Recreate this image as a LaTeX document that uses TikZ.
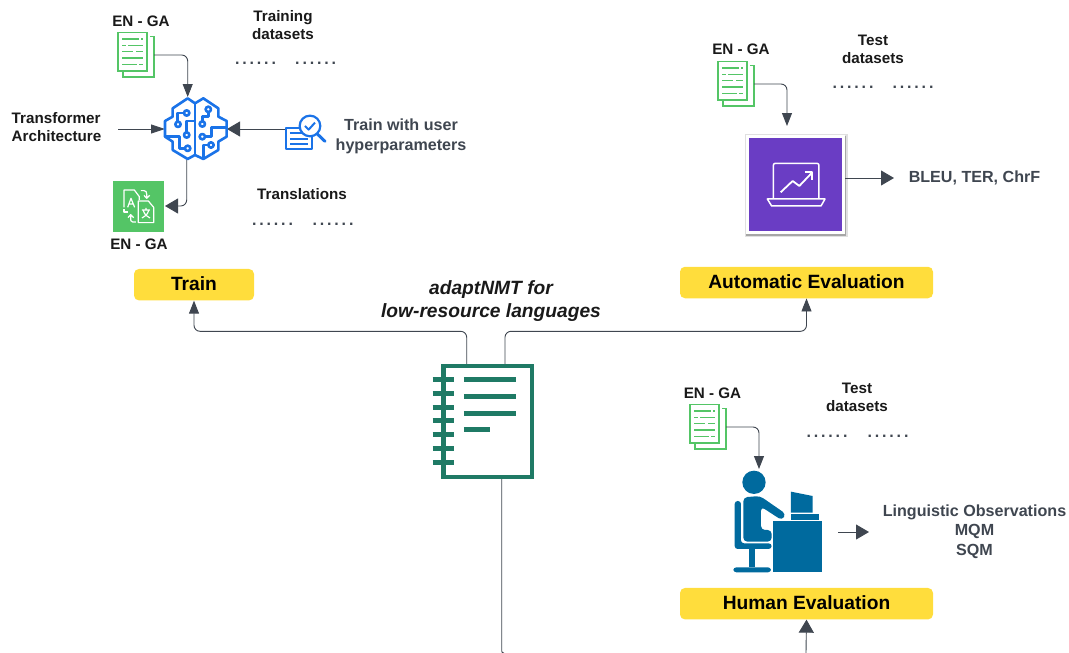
\documentclass[tikz,border=0pt]{standalone}
\usepackage{fontspec}
\setmainfont{Liberation Sans}
\usetikzlibrary{arrows.meta}
\definecolor{linkgrey}{HTML}{3F4650}
\definecolor{docgreen}{HTML}{54C566}
\definecolor{brainblue}{HTML}{1A73E8}
\definecolor{padyellow}{HTML}{FFDD3C}
\definecolor{evalpurple}{HTML}{6A3DC4}
\definecolor{noteteal}{HTML}{1F7A65}
\definecolor{humanblue}{HTML}{006A9E}
\tikzstyle{phantom icon}=[inner sep=0, outer sep=0]
\tikzstyle{stage}=[fill=padyellow, rounded corners=5, inner sep=0, minimum height=31.5, text depth=1.5, font=\bfseries\fontsize{19.2}{22}\selectfont]
\tikzstyle{black text}=[inner sep=0, align=center, text=black!90, font=\bfseries\fontsize{15.2}{18}\selectfont]
\tikzstyle{grey text}=[inner sep=0, align=center, text=linkgrey, font=\bfseries\fontsize{16.1}{19.5}\selectfont]
\tikzstyle{dot row}=[inner sep=0, text=linkgrey, font=\bfseries\fontsize{16}{18}\selectfont]
\tikzstyle{link}=[draw=linkgrey, line width=0.9]
\tikzstyle{head}=[-{Triangle[length=13, width=10, fill=linkgrey]}]
\tikzstyle{big head}=[-{Triangle[length=13, width=15, fill=linkgrey]}]
\newcommand{\dotrow}{.\kern2.85pt.\kern2.85pt.\kern2.85pt.\kern2.85pt.\kern2.85pt.}
\tikzset{
  pics/dataset doc/.style={code={
    \draw[docgreen, line width=1.9] (-15,-22.5) rectangle (14,16);
    \draw[docgreen, line width=1.9] (17,-18.5) -- (21,-18.5) -- (21,22) -- (-10,22) -- (-10,17);
    \foreach \y/\a/\b in {-16/-11/6, -9.5/-5/10, -3.5/-11/0, 3/-11/10, 9.5/-11/4} {
      \draw[docgreen, line width=1.8] (\a,\y) -- (\b,\y);
    }
    \foreach \y/\a/\b in {-16/8/10, -9.5/-11/-7, -3.5/3/10, 9.5/6/10} {
      \draw[docgreen, line width=1.8] (\a,\y) -- (\b,\y);
    }
  }}
}

\begin{document}
\begin{tikzpicture}[x=1pt, y=-1pt]
          \useasboundingbox (0,0) rectangle (1069,653);

          % soft edge under the purple tile
          \fill[black!12] (744.5,133.5) rectangle (847.5,236.5);
          \fill[black!35] (746,135.5) rectangle (846,235.5);

          % icons that the connectors start from
          \node[phantom icon, minimum width=36, minimum height=45] (doc_train) at (136,55) {};
          \node[phantom icon, minimum width=36, minimum height=45] (doc_auto) at (736,84) {};
          \node[phantom icon, minimum width=36, minimum height=45] (doc_human) at (708,427) {};
          \node[phantom icon, minimum width=62, minimum height=62] (brain) at (196,129) {};
          \node[phantom icon, minimum width=40, minimum height=30] (params) at (306,134) {};
          \node[phantom icon, fill=docgreen, minimum size=51.5] (translate) at (138.7,206.5) {};
          \node[phantom icon, fill=white, minimum size=99] (eval_box) at (795.5,184.5) {};
          \node[phantom icon, fill=evalpurple, minimum width=92.7, minimum height=92.7] (eval_inner) at (795.5,184.5) {};
          \node[phantom icon, minimum width=88, minimum height=115] (notebook) at (485,422) {};
          \node[phantom icon, minimum width=90, minimum height=102] (person) at (778,522) {};

          \pic at (133,55) {dataset doc};
          \pic at (733,84) {dataset doc};
          \pic at (705,427) {dataset doc};

          % yellow boxes
          \node[stage, minimum width=120] (train) at (194,284.7) {Train};
          \node[stage, minimum width=253] (auto_eval) at (806.5,282.5) {Automatic Evaluation};
          \node[stage, minimum width=253] (human_eval) at (806.5,603.7) {Human Evaluation};

          % labels
          \node[black text] (en_ga_1) at (141,21) {EN - GA};
          \node[black text] (train_sets) at (283,25) {Training\\datasets};
          \node[dot row] (dots_1) at (255.5,63) {\dotrow};
          \node[dot row] (dots_2) at (315.7,63) {\dotrow};
          \node[black text, align=left] (arch) at (56.5,127) {Transformer\\Architecture};
          \node[grey text] (hyper) at (401,136.5) {Train with user\\hyperparameters};
          \node[black text] (trans_label) at (302,194) {Translations};
          \node[dot row] (dots_3) at (272.5,224) {\dotrow};
          \node[dot row] (dots_4) at (333,224) {\dotrow};
          \node[black text] (en_ga_2) at (139,244) {EN - GA};
          \node[inner sep=0, align=center, text=black!90, font=\bfseries\itshape\fontsize{19.2}{23}\selectfont] (title) at (491,301) {adaptNMT for\\low-resource languages};
          \node[black text] (en_ga_3) at (741,49.5) {EN - GA};
          \node[black text] (test_sets_1) at (873,49.5) {Test\\datasets};
          \node[dot row] (dots_5) at (853,87) {\dotrow};
          \node[dot row] (dots_6) at (913,87) {\dotrow};
          \node[grey text] (scores) at (974.5,177.5) {BLEU, TER, ChrF};
          \node[black text] (en_ga_4) at (712.5,393) {EN - GA};
          \node[black text] (test_sets_2) at (857,397.5) {Test\\datasets};
          \node[dot row] (dots_7) at (827,436) {\dotrow};
          \node[dot row] (dots_8) at (888,436) {\dotrow};
          \node[grey text] (observe) at (974.5,531.5) {Linguistic Observations\\MQM\\SQM};

          % free ends of the connectors
          \coordinate (brain_top) at (187.7,97);
          \coordinate (arch_out) at (118,129);
          \coordinate (translate_in) at (165,206);
          \coordinate (eval_top) at (787,126);
          \coordinate (person_top) at (759,469);
          \coordinate (score_tip) at (894,178);
          \coordinate (observe_from) at (838,532);
          \coordinate (observe_tip) at (869,532);
          \coordinate (note_left) at (466.7,364);
          \coordinate (note_right) at (505,364);
          \coordinate (note_bottom) at (501.7,479);
          \coordinate (page_left) at (504,653);
          \coordinate (page_right) at (806,653);
          \coordinate (brain_low) at (186.7,160);

          \draw[link, head, rounded corners=6] (doc_train.east) -| (brain_top);
          \draw[link, -{Triangle[length=14, width=9, fill=linkgrey]}] (arch_out) -- (brain.west);
          \draw[link, big head] (params.west |- brain.east) -- (brain.east);
          \draw[link, big head, rounded corners=6] (brain_low) |- (translate_in);
          \draw[link, head, rounded corners=6] (doc_auto.east) -| (eval_top);
          \draw[link, big head] (eval_box.east |- score_tip) -- (score_tip);
          \draw[link, head, rounded corners=6] (doc_human.east) -| (person_top);
          \draw[link, big head] (observe_from) -- (observe_tip);
          \draw[link, head, rounded corners=6] (note_left) |- (427,331.3) -| (train.south);
          \draw[link, head, rounded corners=6] (note_right) |- (540,331.3) -| (auto_eval.south);
          \draw[link, rounded corners=2] (note_bottom) |- (page_left);
          \draw[link, big head] (page_right) -- (human_eval.south);

          % brain, in crop units
          \begin{scope}[shift={(150,85)}, x=0.3333pt, y=-0.3333pt, brainblue, line width=2.6, line join=round]
            \draw (135,55) -- (113,40) -- (68,70) -- (68,95) -- (45,108) -- (45,155) -- (68,170) -- (68,195) -- (113,222) -- (135,210) -- (160,222) -- (205,195) -- (205,170) -- (230,155) -- (230,108) -- (205,95) -- (205,70) -- (160,40) -- cycle;
            \draw (135,55) -- (135,210);
            \draw (104,84) -- (83,84) -- (83,110);
            \draw (135,108) -- (110,108) -- (110,142);
            \draw (45,155) -- (88,155) -- (88,190) -- (105,190);
            \draw (175,81) -- (175,95) -- (157,95) -- (157,109);
            \draw (165,155) -- (185,155) -- (185,128) -- (230,128);
            \draw (175,180) -- (160,180) -- (160,222);
            \foreach \cx/\cy in {110/84, 84/118, 110/150, 113/190, 175/73, 157/117, 157/155, 183/180} {
              \draw (\cx,\cy) circle (8);
            }
          \end{scope}

          % hyperparameter sheet and lens
          \begin{scope}[x=0.3333pt, y=-0.3333pt, brainblue, line width=2, line join=round]
            \draw (857,385) rectangle (937,447);
            \foreach \y in {400,418,433} {
              \draw (870,\y) -- (925,\y);
            }
            \draw[line width=3, line cap=round] (952,402) -- (975,424);
            \draw[fill=white, line width=2.2] (930,378) circle (31);
            \draw[line width=2] (915,378) -- (926,389) -- (945,368);
          \end{scope}

          % translated pages
          \begin{scope}[x=0.3333pt, y=-0.3333pt, white, line width=1.2, line join=round]
            \draw (372,622) -- (372,570) -- (403,570) -- (418,590) -- (418,600);
            \draw (372,628) -- (372,636) -- (385,636);
            \draw (415,603) -- (445,603) -- (461,622) -- (461,668) -- (415,668) -- cycle;
            \draw (383,622) -- (393,595) -- (404,622) (387,612) -- (400,612);
            \draw (426,630) -- (450,630) (438,624) -- (438,630) (430,632) .. controls (434,645) and (442,650) .. (450,654) (446,632) .. controls (442,645) and (434,650) .. (426,654);
            \draw (423,572) -- (432,572) .. controls (438,572) and (440,576) .. (440,582) -- (440,594) (432,586) -- (440,595) -- (449,586);
            \draw (408,666) -- (398,666) .. controls (392,666) and (392,660) .. (392,655) -- (392,645) (384,653) -- (392,644) -- (401,653);
          \end{scope}

          % laptop with rising line
          \begin{scope}[shift={(660,20)}, x=0.3333pt, y=-0.3333pt, white, line width=1.5, line join=round]
            \draw[rounded corners=2] (340,537) -- (340,430) -- (477,430) -- (477,537);
            \draw (322,537) -- (495,537) -- (483,558) -- (335,558) -- cycle;
            \draw[line width=1.8] (362,517) -- (398,483) -- (418,498) -- (457,457);
            \draw[line width=1.8] (435,457) -- (457,457) -- (457,480);
          \end{scope}

          % notebook, in crop units
          \begin{scope}[shift={(370,270)}, x=0.3333pt, y=-0.3333pt, noteteal]
            \draw[line width=4.4] (220.5,288.5) rectangle (485.5,621.5);
            \foreach \y in {330,371,412,453,495,536,577} {
              \draw[line width=5] (188,\y) -- (252,\y);
            }
            \foreach \y in {330,380,430} {
              \draw[line width=5] (282,\y) -- (437,\y);
            }
            \draw[line width=5] (282,480) -- (360,480);
          \end{scope}

          % person at the desk, in crop units
          \begin{scope}[shift={(660,370)}, x=0.3333pt, y=-0.3333pt, humanblue]
            \fill (282,337) circle (35);
            \fill[rounded corners=3] (224,537) -- (224,393) -- (243,393) -- (243,520) -- (335,520) -- (335,537) -- cycle;
            \fill (268,537) rectangle (285,592);
            \fill[rounded corners=3] (220,592) rectangle (333,607);
            \fill[rounded corners=4] (250,515) -- (250,382) -- (300,378) -- (378,432) -- (366,451) -- (303,410) -- (303,480) -- (335,480) -- (335,515) -- cycle;
            \fill (340,453) rectangle (486,607);
            \fill (393,365) -- (458,378) -- (458,428) -- (393,428) -- cycle;
            \fill (392,433) rectangle (476,450);
          \end{scope}
        \end{tikzpicture}
\end{document}
